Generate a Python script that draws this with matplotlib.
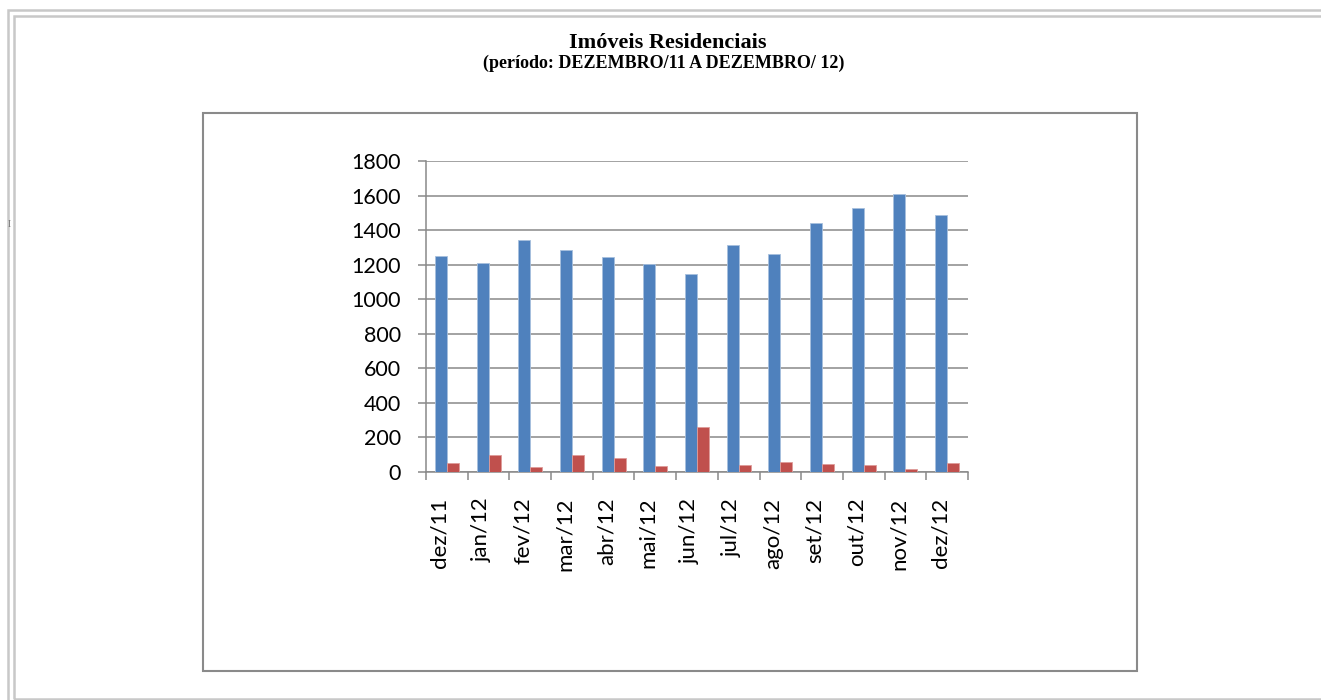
import matplotlib
matplotlib.use("Agg")
import matplotlib.pyplot as plt
from matplotlib.patches import Rectangle
from matplotlib.transforms import ScaledTranslation
import numpy as np

MONTHS = ["dez/11", "jan/12", "fev/12", "mar/12", "abr/12", "mai/12", "jun/12",
          "jul/12", "ago/12", "set/12", "out/12", "nov/12", "dez/12"]
SERIES_A = [1250, 1210, 1340, 1287, 1245, 1204, 1145, 1316, 1260, 1441, 1526, 1611, 1488]
SERIES_B = [54, 96, 31, 100, 79, 37, 262, 39, 60, 44, 39, 19, 54]
Y_TICKS = [0, 200, 400, 600, 800, 1000, 1200, 1400, 1600, 1800]

TITLE = "Imóveis Residenciais"
SUBTITLE = "(período: DEZEMBRO/11 A DEZEMBRO/ 12)"

W, H = 1321, 700
BLUE = "#4F81BD"
RED = "#C0504D"
GRID = "#898989"
FRAME = "#C8C8C8"

fig = plt.figure(figsize=(W / 100, H / 100), dpi=100)
fig.patch.set_facecolor("white")


def px_rect(x0, y0, x1, y1, **kw):
    # rectangle given in pixel coords (top-left origin)
    return Rectangle((x0 / W, 1 - y1 / H), (x1 - x0) / W, (y1 - y0) / H,
                     transform=fig.transFigure, fill=False, **kw)


# page frame (double gray border, runs off the right edge)
fig.patches.append(px_rect(8, 10, 1340, 730, edgecolor=FRAME, linewidth=1.8))
fig.patches.append(px_rect(13.5, 15.5, 1340, 699, edgecolor=FRAME, linewidth=1.8))

# chart box
fig.patches.append(px_rect(203, 113, 1137, 671, edgecolor="#8A8A8A", linewidth=1.5))

fig.text(668 / W, 1 - 48 / H, TITLE, ha="center", va="baseline",
         family="Liberation Serif", fontweight="bold", fontsize=16)
fig.text(664 / W, 1 - 67.5 / H, SUBTITLE, ha="center", va="baseline",
         family="Liberation Serif", fontweight="bold", fontsize=13)
fig.text(9 / W, 1 - 224 / H, "I", ha="center", va="center",
         family="Liberation Serif", fontsize=7, color="#777777")

ax = fig.add_axes([426 / W, 1 - 472 / H, (968 - 426) / W, (472 - 161) / H])
x = np.arange(len(MONTHS))
bw = 0.288
ax.bar(x - bw / 2, SERIES_A, width=bw, color=BLUE, edgecolor="#A7C0DE", linewidth=0.6, zorder=3)
ax.bar(x + bw / 2, SERIES_B, width=bw, color=RED, edgecolor="#DE9C9A", linewidth=0.6, zorder=3)

ax.set_xlim(-0.5, len(MONTHS) - 0.5)
ax.set_ylim(0, 1800)
ax.set_yticks(Y_TICKS)
ax.set_yticklabels([str(v) for v in Y_TICKS], family="Lato", fontsize=15.5)
ax.yaxis.grid(True, color=GRID, linewidth=1.1, zorder=0)
ax.set_axisbelow(True)

ax.set_xticks(x)
ax.set_xticklabels(MONTHS, rotation=90, family="Lato", fontsize=16)
ax.tick_params(axis="x", length=0, pad=18.5)
shift = ScaledTranslation(-7 / 100, 0, fig.dpi_scale_trans)
for lbl in ax.get_xticklabels():
    lbl.set_transform(lbl.get_transform() + shift)
ax.set_xticks(np.arange(len(MONTHS) + 1) - 0.5, minor=True)
ax.tick_params(axis="x", which="minor", length=6, width=1.1, color=GRID)
ax.tick_params(axis="y", length=6, width=1.1, color=GRID, pad=12)

for s in ["top", "right"]:
    ax.spines[s].set_visible(False)
for s in ["left", "bottom"]:
    ax.spines[s].set_color(GRID)
    ax.spines[s].set_linewidth(1.1)

fig.savefig("out.png", dpi=100)
